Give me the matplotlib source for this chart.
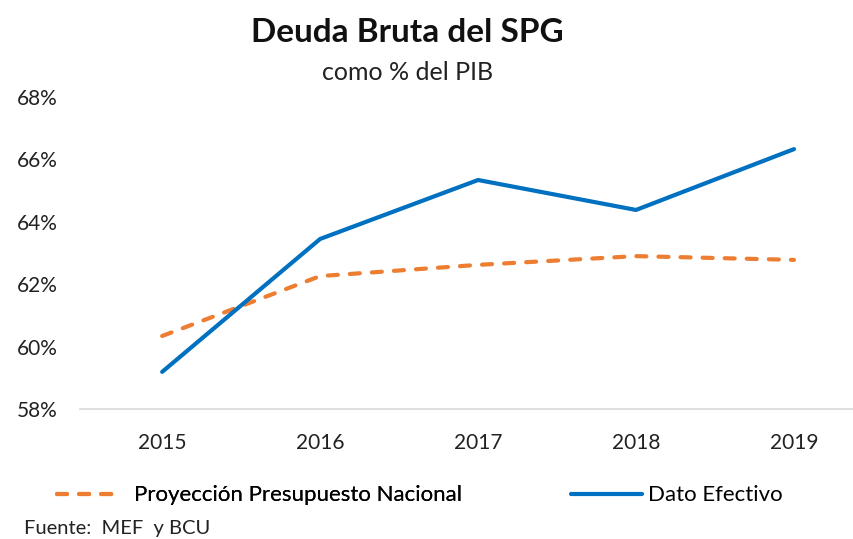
import matplotlib
matplotlib.use("Agg")
import matplotlib.pyplot as plt
from matplotlib.ticker import FuncFormatter

years = ["2015", "2016", "2017", "2018", "2019"]
proyeccion = [60.34, 62.26, 62.62, 62.90, 62.78]
efectivo = [59.19, 63.45, 65.34, 64.38, 66.33]
yticks = [58, 60, 62, 64, 66, 68]

plt.rcParams['font.family'] = ['Lato', 'DejaVu Sans']

fig = plt.figure(figsize=(8.54, 5.39), dpi=100)
ax = fig.add_axes([0.0937, 0.2412, 0.9063, 0.5788])

x = list(range(len(years)))
l1, = ax.plot(x, proyeccion, color='#ED7D31', lw=3, dashes=(2.4, 2.9),
              dash_capstyle='round', label='Proyección Presupuesto Nacional')
l2, = ax.plot(x, efectivo, color='#0070C0', lw=3, solid_capstyle='round',
              label='Dato Efectivo')

ax.set_xlim(-0.52, 4.38)
ax.set_ylim(58, 68)
ax.set_yticks(yticks)
ax.yaxis.set_major_formatter(FuncFormatter(lambda v, p: f"{v:.0f}%"))
ax.set_xticks(x)
ax.set_xticklabels(years)
ax.tick_params(axis='y', length=0, pad=16, labelsize=15, labelcolor='#222222')
ax.tick_params(axis='x', length=0, pad=17, labelsize=15, labelcolor='#222222')
for s in ['top', 'right', 'left']:
    ax.spines[s].set_visible(False)
ax.spines['bottom'].set_color('#D9D9D9')
ax.spines['bottom'].set_linewidth(1.2)

fig.text(0.477, 0.939, "Deuda Bruta del SPG", ha='center', va='center',
         fontsize=24, fontweight='bold', color='#111111')
fig.text(0.477, 0.865, "como % del PIB", ha='center', va='center',
         fontsize=18, color='#222222')

leg1 = fig.legend(handles=[l1], loc='center left', bbox_to_anchor=(57/854, 0.081),
                  frameon=False, fontsize=16, handlelength=2.9, borderpad=0,
                  borderaxespad=0, handletextpad=0.55)
fig.add_artist(leg1)
fig.legend(handles=[l2], loc='center left', bbox_to_anchor=(571/854, 0.081),
           frameon=False, fontsize=16, handlelength=3.2, borderpad=0,
           borderaxespad=0, handletextpad=0.25)

fig.text(0.028, 0.02, "Fuente:  MEF  y BCU", ha='left', va='center',
         fontsize=14.5, color='#222222')

fig.savefig("out.png", dpi=100)
